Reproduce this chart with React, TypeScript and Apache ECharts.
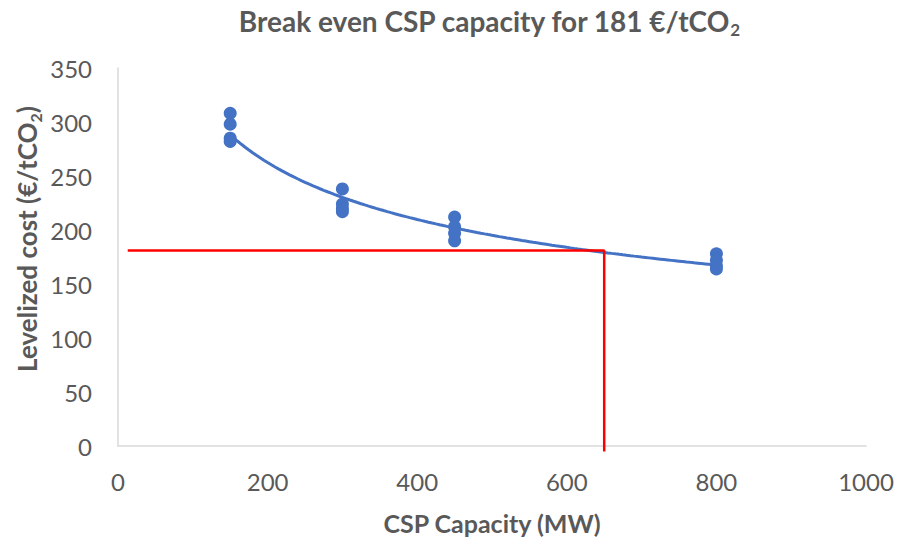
import React, { useEffect, useRef } from "react";
import * as echarts from "echarts";

// CSP plant sizes (MW) and the levelized cost of each simulated run (€/tCO2)
const capacities = [150, 300, 450, 800];
const costRuns = [
  [308, 298, 285, 282],
  [238, 224, 220, 217],
  [212, 203, 197, 190],
  [178, 172, 167, 164],
];

// Break-even reading
const breakEvenCost = 181;
const breakEvenCapacity = 650;
const guideStartX = 13;
const guideEndY = -5;

const xTicks = { min: 0, max: 1000, interval: 200 };
const yTicks = { min: 0, max: 350, interval: 50 };

const FONT = "Lato, Carlito, 'Open Sans', sans-serif";
const TEXT = "#595959";
const BLUE = "#4472C4";
const RED = "#FF0000";

const points: [number, number][] = [];
capacities.forEach((c, i) => costRuns[i].forEach((v) => points.push([c, v])));

// Power-law trend line y = a * x^b, least squares in log-log space
function powerFit(pts: [number, number][]) {
  const n = pts.length;
  let sx = 0, sy = 0, sxx = 0, sxy = 0;
  pts.forEach(([x, y]) => {
    const lx = Math.log(x), ly = Math.log(y);
    sx += lx; sy += ly; sxx += lx * lx; sxy += lx * ly;
  });
  const b = (n * sxy - sx * sy) / (n * sxx - sx * sx);
  const a = Math.exp((sy - b * sx) / n);
  return { a, b };
}
const fit = powerFit(points);
const xFirst = capacities[0];
const xLast = capacities[capacities.length - 1];
const trend: [number, number][] = [];
for (let x = xFirst; x <= xLast; x += 5) trend.push([x, fit.a * Math.pow(x, fit.b)]);

const guide: [number, number][] = [
  [guideStartX, breakEvenCost],
  [breakEvenCapacity, breakEvenCost],
  [breakEvenCapacity, guideEndY],
];

export default function App() {
  const ref = useRef<HTMLDivElement>(null);

  useEffect(() => {
    document.body.style.margin = "0";
    const chart = echarts.init(ref.current!, null, { renderer: "svg" });
    chart.setOption({
      animation: false,
      backgroundColor: "#ffffff",
      grid: { left: 118, right: 31, top: 68, bottom: 96 },
      graphic: [
        {
          type: "text",
          x: 489,
          y: 21,
          style: {
            text: `{a|Break even CSP capacity for ${breakEvenCost} €/tCO}{s|2}`,
            align: "center",
            verticalAlign: "middle",
            rich: {
              a: { fontFamily: FONT, fontSize: 28, fontWeight: "bold", fill: TEXT, lineHeight: 34 },
              s: { fontFamily: FONT, fontSize: 17, fontWeight: "bold", fill: TEXT, lineHeight: 17, verticalAlign: "bottom" },
            },
          },
        },
        {
          type: "text",
          x: 27,
          y: 239,
          rotation: Math.PI / 2,
          style: {
            text: "{a|Levelized cost (€/tCO}{s|2}{a|)}",
            align: "center",
            verticalAlign: "middle",
            rich: {
              a: { fontFamily: FONT, fontSize: 26, fontWeight: "bold", fill: TEXT, lineHeight: 32 },
              s: { fontFamily: FONT, fontSize: 16, fontWeight: "bold", fill: TEXT, lineHeight: 16, verticalAlign: "bottom" },
            },
          },
        },
      ],
      xAxis: {
        type: "value",
        ...xTicks,
        name: "CSP Capacity (MW)",
        nameLocation: "middle",
        nameGap: 64,
        nameTextStyle: { fontFamily: FONT, fontSize: 25, fontWeight: "bold", color: TEXT },
        axisLine: { show: true, lineStyle: { color: "#D9D9D9", width: 1.5 } },
        axisTick: { show: false },
        splitLine: { show: false },
        axisLabel: {
          fontFamily: FONT,
          fontSize: 24,
          color: TEXT,
          margin: 23,
          formatter: (v: number) => String(v),
        },
      },
      yAxis: {
        type: "value",
        ...yTicks,
        axisLine: { show: true, lineStyle: { color: "#D9D9D9", width: 1.5 } },
        axisTick: { show: false },
        splitLine: { show: false },
        axisLabel: {
          fontFamily: FONT,
          fontSize: 24,
          color: TEXT,
          margin: 26,
          formatter: (v: number) => String(v),
        },
      },
      series: [
        {
          name: "Trend",
          type: "line",
          data: trend,
          showSymbol: false,
          smooth: false,
          lineStyle: { color: BLUE, width: 3 },
          z: 2,
        },
        {
          name: "Levelized cost",
          type: "scatter",
          data: points,
          symbol: "circle",
          symbolSize: 13,
          itemStyle: { color: BLUE, opacity: 1 },
          z: 3,
        },
        {
          name: "Break even",
          type: "line",
          data: guide,
          showSymbol: false,
          clip: false,
          lineStyle: { color: RED, width: 2.5 },
          z: 4,
        },
      ],
    });
    return () => chart.dispose();
  }, []);

  return <div ref={ref} style={{ width: 897, height: 542 }} />;
}
